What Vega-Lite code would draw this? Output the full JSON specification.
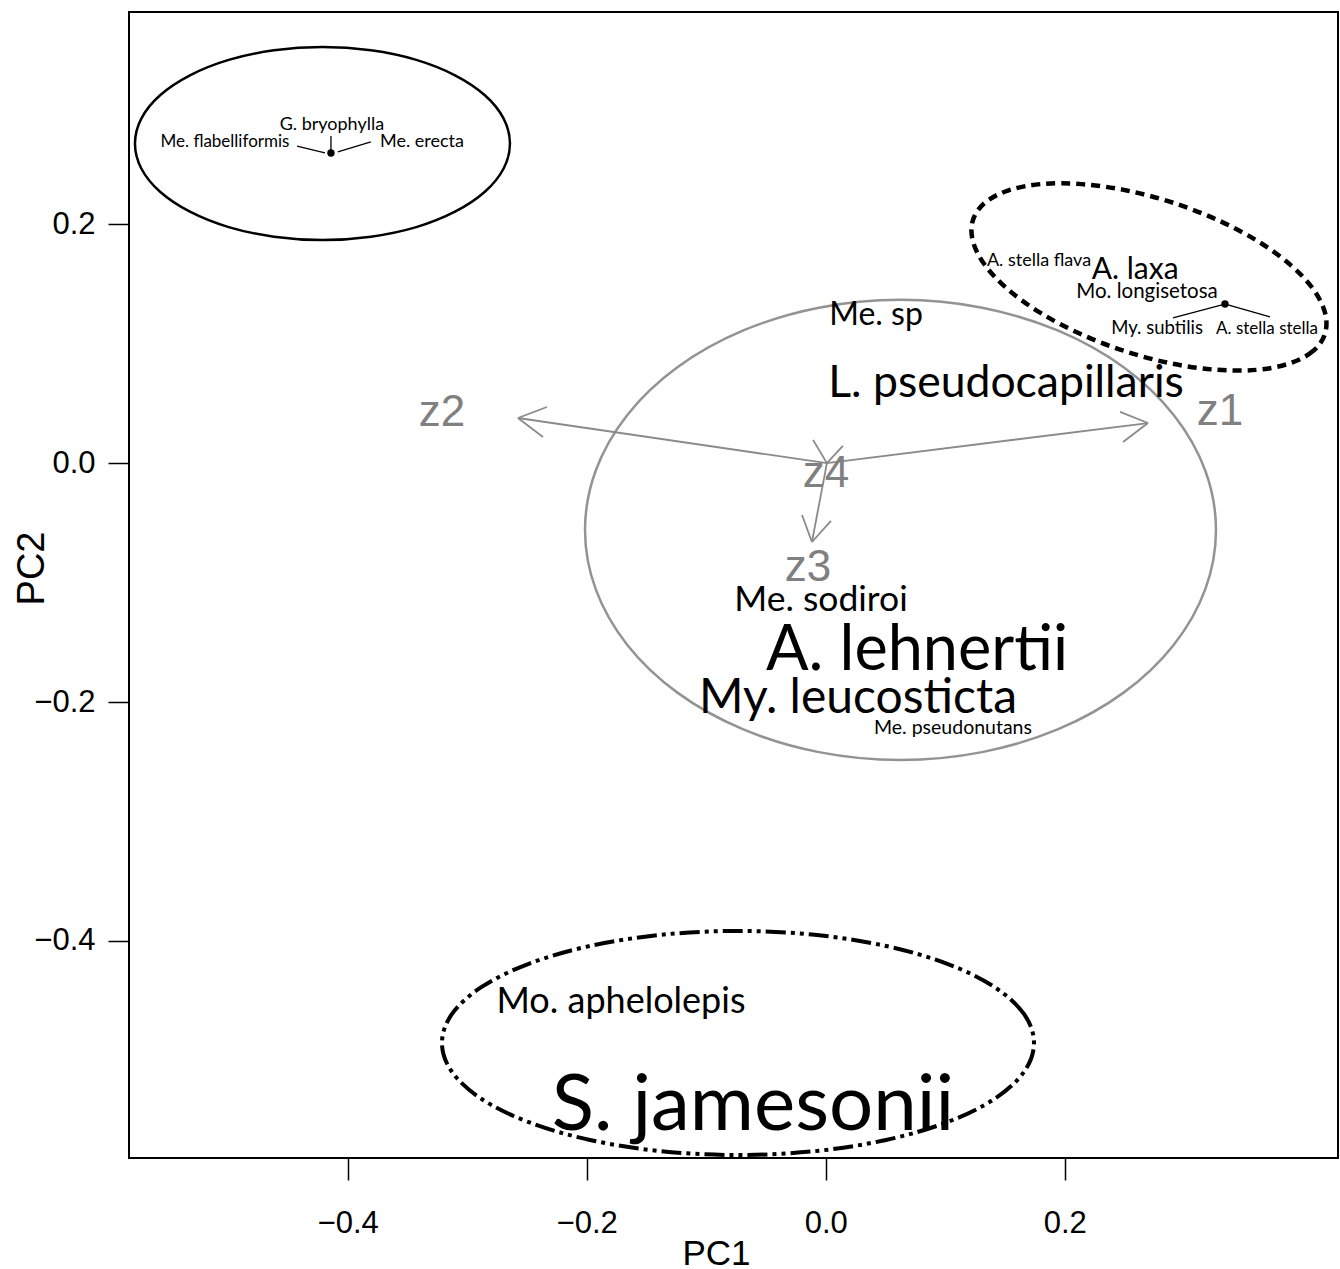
{
  "$schema": "https://vega.github.io/schema/vega-lite/v6.json",
  "width": 1209,
  "height": 1146,
  "autosize": {"type": "none"},
  "padding": {"left": 129, "top": 12, "right": 2, "bottom": 111},
  "background": "white",
  "config": {
    "view": {"stroke": "black", "strokeWidth": 2},
    "axis": {
      "grid": false, "domain": false, "tickColor": "black", "tickWidth": 1.5,
      "labelFont": "Liberation Sans", "labelFontSize": 31, "labelColor": "black",
      "titleFont": "Liberation Sans", "titleFontSize": 35, "titleFontWeight": "normal", "titleColor": "black"
    }
  },
  "datasets": {
    "ellipse_solid": [
      {"i":0,"x":-0.2642,"y":0.2676},{"i":1,"x":-0.2695,"y":0.2885},{"i":2,"x":-0.2852,"y":0.3080},{"i":3,"x":-0.3102,"y":0.3247},
      {"i":4,"x":-0.3426,"y":0.3376},{"i":5,"x":-0.3805,"y":0.3456},{"i":6,"x":-0.4211,"y":0.3484},{"i":7,"x":-0.4617,"y":0.3456},
      {"i":8,"x":-0.4996,"y":0.3376},{"i":9,"x":-0.5320,"y":0.3247},{"i":10,"x":-0.5570,"y":0.3080},{"i":11,"x":-0.5727,"y":0.2885},
      {"i":12,"x":-0.5780,"y":0.2676},{"i":13,"x":-0.5727,"y":0.2467},{"i":14,"x":-0.5570,"y":0.2272},{"i":15,"x":-0.5320,"y":0.2105},
      {"i":16,"x":-0.4996,"y":0.1976},{"i":17,"x":-0.4617,"y":0.1896},{"i":18,"x":-0.4211,"y":0.1868},{"i":19,"x":-0.3805,"y":0.1896},
      {"i":20,"x":-0.3426,"y":0.1976},{"i":21,"x":-0.3102,"y":0.2105},{"i":22,"x":-0.2852,"y":0.2272},{"i":23,"x":-0.2695,"y":0.2467}
    ],
    "ellipse_dashed": [
      {"i":0,"x":0.4177,"y":0.1080},{"i":1,"x":0.4075,"y":0.0936},{"i":2,"x":0.3879,"y":0.0834},{"i":3,"x":0.3604,"y":0.0781},
      {"i":4,"x":0.3267,"y":0.0782},{"i":5,"x":0.2891,"y":0.0835},{"i":6,"x":0.2503,"y":0.0938},{"i":7,"x":0.2129,"y":0.1083},
      {"i":8,"x":0.1794,"y":0.1260},{"i":9,"x":0.1521,"y":0.1458},{"i":10,"x":0.1329,"y":0.1663},{"i":11,"x":0.1231,"y":0.1861},
      {"i":12,"x":0.1233,"y":0.2038},{"i":13,"x":0.1335,"y":0.2182},{"i":14,"x":0.1531,"y":0.2284},{"i":15,"x":0.1806,"y":0.2337},
      {"i":16,"x":0.2143,"y":0.2336},{"i":17,"x":0.2519,"y":0.2283},{"i":18,"x":0.2907,"y":0.2180},{"i":19,"x":0.3281,"y":0.2035},
      {"i":20,"x":0.3616,"y":0.1858},{"i":21,"x":0.3889,"y":0.1660},{"i":22,"x":0.4081,"y":0.1455},{"i":23,"x":0.4179,"y":0.1257}
    ],
    "ellipse_gray": [
      {"i":0,"x":0.3266,"y":-0.0559},{"i":1,"x":0.3176,"y":-0.0061},{"i":2,"x":0.2912,"y":0.0404},{"i":3,"x":0.2493,"y":0.0803},
      {"i":4,"x":0.1946,"y":0.1109},{"i":5,"x":0.1309,"y":0.1301},{"i":6,"x":0.0626,"y":0.1367},{"i":7,"x":-0.0057,"y":0.1301},
      {"i":8,"x":-0.0694,"y":0.1109},{"i":9,"x":-0.1241,"y":0.0803},{"i":10,"x":-0.1660,"y":0.0404},{"i":11,"x":-0.1924,"y":-0.0061},
      {"i":12,"x":-0.2014,"y":-0.0559},{"i":13,"x":-0.1924,"y":-0.1057},{"i":14,"x":-0.1660,"y":-0.1522},{"i":15,"x":-0.1241,"y":-0.1921},
      {"i":16,"x":-0.0694,"y":-0.2227},{"i":17,"x":-0.0057,"y":-0.2419},{"i":18,"x":0.0626,"y":-0.2485},{"i":19,"x":0.1309,"y":-0.2419},
      {"i":20,"x":0.1946,"y":-0.2227},{"i":21,"x":0.2493,"y":-0.1921},{"i":22,"x":0.2912,"y":-0.1522},{"i":23,"x":0.3176,"y":-0.1057}
    ],
    "ellipse_dashdot": [
      {"i":0,"x":0.1743,"y":-0.4854},{"i":1,"x":0.1659,"y":-0.4611},{"i":2,"x":0.1411,"y":-0.4385},{"i":3,"x":0.1017,"y":-0.4191},
      {"i":4,"x":0.0505,"y":-0.4042},{"i":5,"x":-0.0093,"y":-0.3948},{"i":6,"x":-0.0734,"y":-0.3916},{"i":7,"x":-0.1375,"y":-0.3948},
      {"i":8,"x":-0.1973,"y":-0.4042},{"i":9,"x":-0.2485,"y":-0.4191},{"i":10,"x":-0.2879,"y":-0.4385},{"i":11,"x":-0.3127,"y":-0.4611},
      {"i":12,"x":-0.3211,"y":-0.4854},{"i":13,"x":-0.3127,"y":-0.5097},{"i":14,"x":-0.2879,"y":-0.5323},{"i":15,"x":-0.2485,"y":-0.5517},
      {"i":16,"x":-0.1973,"y":-0.5666},{"i":17,"x":-0.1375,"y":-0.5760},{"i":18,"x":-0.0734,"y":-0.5792},{"i":19,"x":-0.0093,"y":-0.5760},
      {"i":20,"x":0.0505,"y":-0.5666},{"i":21,"x":0.1017,"y":-0.5517},{"i":22,"x":0.1411,"y":-0.5323},{"i":23,"x":0.1659,"y":-0.5097}
    ],
    "arrows": [
      {"v":"z1","x":0.001,"y":0.0,"x2":0.2697,"y2":0.0336},
      {"v":"z1","x":0.2697,"y":0.0336,"x2":0.2463,"y2":0.0429},
      {"v":"z1","x":0.2697,"y":0.0336,"x2":0.2488,"y2":0.0177},
      {"v":"z2","x":0.001,"y":0.0,"x2":-0.2575,"y2":0.0378},
      {"v":"z2","x":-0.2575,"y":0.0378,"x2":-0.2333,"y2":0.0470},
      {"v":"z2","x":-0.2575,"y":0.0378,"x2":-0.2366,"y2":0.0219},
      {"v":"z3","x":0.001,"y":0.0,"x2":-0.0115,"y2":-0.0660},
      {"v":"z3","x":-0.0115,"y":-0.0660,"x2":-0.0198,"y2":-0.0434},
      {"v":"z3","x":-0.0115,"y":-0.0660,"x2":0.0044,"y2":-0.0484},
      {"v":"z4","x":0.001,"y":0.0,"x2":-0.0106,"y2":0.0195},
      {"v":"z4","x":0.001,"y":0.0,"x2":0.0144,"y2":0.0144}
    ],
    "arrow_labels": [
      {"v":"z1","x":0.3300,"y":0.0320},
      {"v":"z2","x":-0.3211,"y":0.0312},
      {"v":"z3","x":-0.0149,"y":-0.0986},
      {"v":"z4","x":0.0003,"y":-0.0199}
    ],
    "connectors": [
      {"x":-0.4140,"y":0.2739,"x2":-0.4140,"y2":0.2622},
      {"x":-0.4424,"y":0.2655,"x2":-0.4190,"y2":0.2597},
      {"x":-0.4082,"y":0.2605,"x2":-0.3806,"y2":0.2689},
      {"x":0.2906,"y":0.1216,"x2":0.3316,"y2":0.1325},
      {"x":0.3366,"y":0.1325,"x2":0.3718,"y2":0.1224}
    ],
    "dots": [
      {"x":-0.4140,"y":0.2597},
      {"x":0.3341,"y":0.1333}
    ],
    "taxa": [
      {"taxon":"G. bryophylla","x":-0.4132,"y":0.2790,"abundance":18,"bold":false},
      {"taxon":"Me. flabelliformis","x":-0.5027,"y":0.2647,"abundance":17,"bold":true},
      {"taxon":"Me. erecta","x":-0.3378,"y":0.2647,"abundance":18,"bold":false},
      {"taxon":"A. stella flava","x":0.1785,"y":0.1651,"abundance":18,"bold":false},
      {"taxon":"A. laxa","x":0.2589,"y":0.1542,"abundance":30,"bold":false},
      {"taxon":"Mo. longisetosa","x":0.2689,"y":0.1383,"abundance":20.5,"bold":false},
      {"taxon":"My. subtilis","x":0.2773,"y":0.1082,"abundance":18.5,"bold":false},
      {"taxon":"A. stella stella","x":0.3693,"y":0.1082,"abundance":17,"bold":false},
      {"taxon":"Me. sp","x":0.0421,"y":0.1157,"abundance":32,"bold":false},
      {"taxon":"L. pseudocapillaris","x":0.1509,"y":0.0554,"abundance":44.5,"bold":false},
      {"taxon":"Me. sodiroi","x":-0.0039,"y":-0.1237,"abundance":35.5,"bold":false},
      {"taxon":"A. lehnertii","x":0.0764,"y":-0.1731,"abundance":63,"bold":false},
      {"taxon":"My. leucosticta","x":0.0270,"y":-0.2091,"abundance":48,"bold":false},
      {"taxon":"Me. pseudonutans","x":0.1065,"y":-0.2267,"abundance":19.5,"bold":false},
      {"taxon":"Mo. aphelolepis","x":-0.1713,"y":-0.4602,"abundance":36,"bold":false},
      {"taxon":"S. jamesonii","x":-0.0609,"y":-0.5581,"abundance":78,"bold":false}
    ]
  },
  "encoding": {
    "x": {
      "field": "x", "type": "quantitative",
      "scale": {"domain": [-0.583, 0.4287], "nice": false, "zero": false},
      "axis": {"values": [-0.4, -0.2, 0, 0.2], "format": ".1f", "title": "PC1", "tickSize": 22,
               "labelPadding": 52, "labelBaseline": "alphabetic",
               "titleX": 587, "titleY": 106, "titleBaseline": "alphabetic", "titleAnchor": null}
    },
    "y": {
      "field": "y", "type": "quantitative",
      "scale": {"domain": [-0.5817, 0.3777], "nice": false, "zero": false},
      "axis": {"values": [-0.4, -0.2, 0, 0.2], "format": ".1f", "title": "PC2", "tickSize": 21,
               "labelPadding": 13, "titleX": -86, "titleY": 556, "titleFontSize": 38, "titleBaseline": "alphabetic", "titleAngle": -90}
    }
  },
  "layer": [
    {
      "data": {"name": "ellipse_solid"},
      "mark": {"type": "line", "interpolate": "cardinal-closed", "stroke": "black", "strokeWidth": 2.5},
      "encoding": {"order": {"field": "i", "type": "quantitative"}}
    },
    {
      "data": {"name": "ellipse_dashed"},
      "mark": {"type": "line", "interpolate": "cardinal-closed", "stroke": "black", "strokeWidth": 4.5, "strokeDash": [9, 6]},
      "encoding": {"order": {"field": "i", "type": "quantitative"}}
    },
    {
      "data": {"name": "ellipse_gray"},
      "mark": {"type": "line", "interpolate": "cardinal-closed", "stroke": "#939393", "strokeWidth": 2.5},
      "encoding": {"order": {"field": "i", "type": "quantitative"}}
    },
    {
      "data": {"name": "ellipse_dashdot"},
      "mark": {"type": "line", "interpolate": "cardinal-closed", "stroke": "black", "strokeWidth": 4, "strokeDash": [20, 5, 4, 5, 4, 5], "clip": true},
      "encoding": {"order": {"field": "i", "type": "quantitative"}}
    },
    {
      "data": {"name": "arrows"},
      "mark": {"type": "rule", "stroke": "#8a8a8a", "strokeWidth": 1.8},
      "encoding": {"x2": {"field": "x2"}, "y2": {"field": "y2"}}
    },
    {
      "data": {"name": "connectors"},
      "mark": {"type": "rule", "stroke": "black", "strokeWidth": 1.3},
      "encoding": {"x2": {"field": "x2"}, "y2": {"field": "y2"}}
    },
    {
      "data": {"name": "dots"},
      "mark": {"type": "point", "filled": true, "fill": "black", "stroke": null, "size": 55, "opacity": 1}
    },
    {
      "data": {"name": "arrow_labels"},
      "mark": {"type": "text", "font": "Liberation Sans", "fontSize": 44, "fill": "#808080", "align": "center", "baseline": "alphabetic"},
      "encoding": {"text": {"field": "v"}}
    },
    {
      "data": {"name": "taxa"},
      "mark": {"type": "text", "font": "Lato", "fill": "black", "align": "center", "baseline": "alphabetic"},
      "encoding": {
        "text": {"field": "taxon"},
        "size": {"field": "abundance", "type": "quantitative", "scale": {"type": "linear", "domain": [0, 100], "range": [0, 100], "zero": true}, "legend": null},
        "fontWeight": {"condition": {"test": "datum.bold", "value": 700}, "value": 400}
      }
    }
  ]
}
